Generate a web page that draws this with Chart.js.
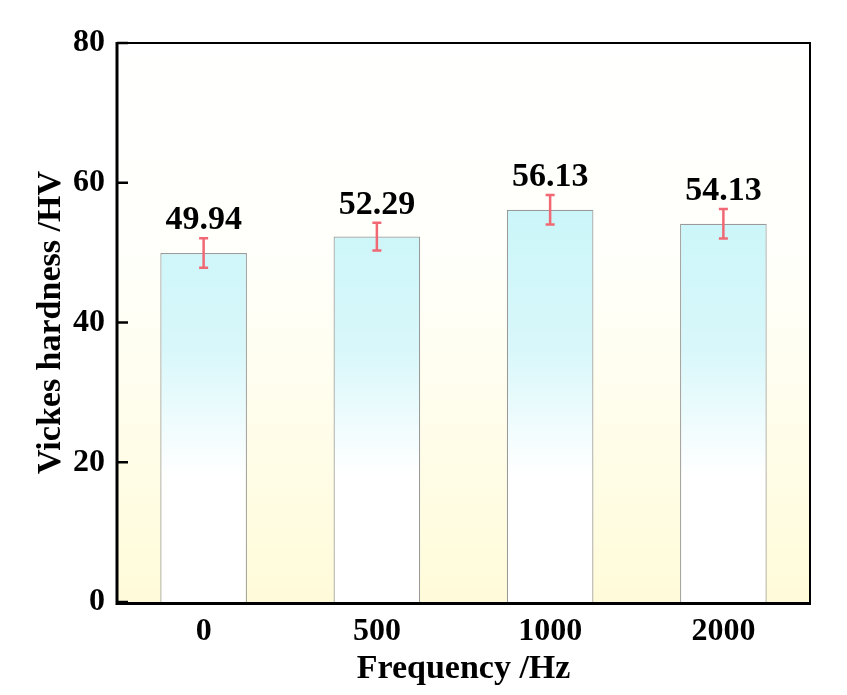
<!DOCTYPE html>
<html>
<head>
<meta charset="utf-8">
<script src="https://cdn.jsdelivr.net/npm/chart.js@4.4.0/dist/chart.umd.min.js"></script>
<style>
html,body{margin:0;padding:0;background:#fff;}
#wrap{width:847px;height:695px;}
</style>
</head>
<body>
<div id="wrap"><canvas id="c" width="847" height="695"></canvas></div>
<script>
const categories = ["0", "500", "1000", "2000"];
const hardness = [49.94, 52.29, 56.13, 54.13];
const errors = [2.1, 2.0, 2.1, 2.1];
const yTicks = [0, 20, 40, 60, 80];

const FONT = "'Liberation Serif', 'Times New Roman', serif";

const decor = {
  id: 'decor',
  beforeDatasetsDraw(chart) {
    const {ctx, chartArea: a} = chart;
    const g = ctx.createLinearGradient(0, a.top, 0, a.bottom);
    g.addColorStop(0, '#ffffff');
    g.addColorStop(0.4, '#fffffa');
    g.addColorStop(1, '#fffbd9');
    ctx.save();
    ctx.fillStyle = g;
    ctx.fillRect(a.left, a.top, a.right - a.left, a.bottom - a.top);
    ctx.restore();
  },
  afterDatasetsDraw(chart) {
    const {ctx, chartArea: a, scales} = chart;
    const y = scales.y;
    const meta = chart.getDatasetMeta(0);
    ctx.save();
    ctx.strokeStyle = '#f06874';
    ctx.lineWidth = 2.5;
    meta.data.forEach((bar, i) => {
      const v = hardness[i], e = errors[i];
      const cx = bar.x;
      const yt = y.getPixelForValue(v + e), yb = y.getPixelForValue(v - e);
      ctx.beginPath();
      ctx.moveTo(cx, yt); ctx.lineTo(cx, yb);
      ctx.moveTo(cx - 4.5, yt); ctx.lineTo(cx + 4.5, yt);
      ctx.moveTo(cx - 4.5, yb); ctx.lineTo(cx + 4.5, yb);
      ctx.stroke();
      ctx.fillStyle = '#000';
      ctx.font = 'bold 34px ' + FONT;
      ctx.textAlign = 'center';
      ctx.textBaseline = 'alphabetic';
      ctx.fillText(hardness[i].toFixed(2), cx, yt - 9);
    });
    ctx.strokeStyle = '#000';
    ctx.lineWidth = 2;
    ctx.beginPath();
    ctx.moveTo(a.left, a.top); ctx.lineTo(a.right, a.top); ctx.lineTo(a.right, a.bottom);
    ctx.stroke();
    ctx.lineWidth = 3;
    ctx.beginPath();
    ctx.moveTo(a.left, a.top - 1); ctx.lineTo(a.left, a.bottom + 1.5);
    ctx.lineTo(a.right + 1, a.bottom + 1.5);
    ctx.stroke();
    ctx.lineWidth = 2.5;
    yTicks.forEach(t => {
      const py = y.getPixelForValue(t);
      ctx.beginPath();
      ctx.moveTo(a.left, py); ctx.lineTo(a.left + 11, py);
      ctx.stroke();
    });
    ctx.restore();
  }
};

new Chart(document.getElementById('c'), {
  type: 'bar',
  data: {
    labels: categories,
    datasets: [{
      data: hardness,
      backgroundColor: (c) => {
        const a = c.chart.chartArea;
        if (!a) return '#e0f8fa';
        const ys = c.chart.scales.y;
        const g = c.chart.ctx.createLinearGradient(0, ys.getPixelForValue(56), 0, ys.getPixelForValue(0));
        g.addColorStop(0, '#cbf6f9');
        g.addColorStop(0.35, '#d8f7fa');
        g.addColorStop(0.68, '#ffffff');
        g.addColorStop(1, '#ffffff');
        return g;
      },
      borderColor: '#9a9a9a',
      borderWidth: 1.2,
      borderSkipped: 'bottom',
      barPercentage: 0.5,
      categoryPercentage: 1.0
    }]
  },
  options: {
    responsive: false,
    animation: false,
    layout: {padding: {top: 43, right: 37, left: 0, bottom: 0}},
    plugins: {legend: {display: false}, tooltip: {enabled: false}},
    scales: {
      x: {
        grid: {display: false, drawTicks: false},
        border: {display: false},
        ticks: {color: '#000', font: {family: FONT, size: 32, weight: 'bold'}, padding: 11},
        title: {display: true, text: 'Frequency /Hz', color: '#000', font: {family: FONT, size: 34, weight: 'bold'}, padding: {top: 0, bottom: 5}},
        afterFit(s) { s.height = 93; }
      },
      y: {
        min: 0, max: 80,
        afterBuildTicks(s) { s.ticks = yTicks.map(v => ({value: v})); },
        grid: {display: false, drawTicks: false},
        border: {display: false},
        ticks: {color: '#000', font: {family: FONT, size: 32, weight: 'bold'}, padding: 12},
        title: {display: true, text: 'Vickes hardness /HV', color: '#000', font: {family: FONT, size: 34, weight: 'bold'}, padding: {top: 31, bottom: 0}},
        afterFit(s) { s.width = 117; }
      }
    }
  },
  plugins: [decor]
});
</script>
</body>
</html>
